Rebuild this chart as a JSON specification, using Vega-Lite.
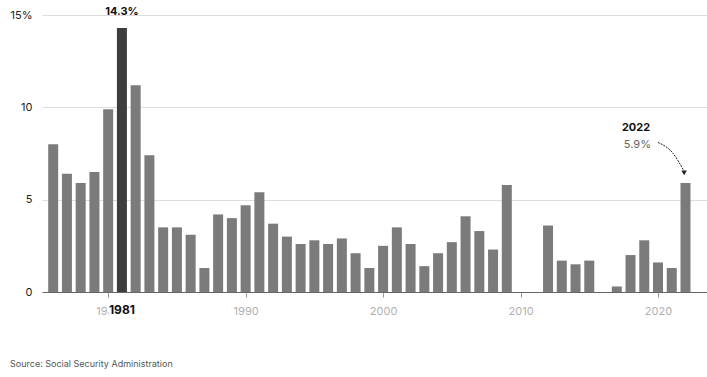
{
  "$schema": "https://vega.github.io/schema/vega-lite/v6.json",
  "width": 665,
  "height": 277,
  "autosize": {"type": "none"},
  "padding": {"left": 42, "top": 15, "right": 0, "bottom": 85},
  "background": "white",
  "config": {
    "font": "Inter",
    "view": {"stroke": null}
  },
  "title": {
    "text": "Source: Social Security Administration",
    "orient": "bottom",
    "anchor": "start",
    "frame": "bounds",
    "offset": 44,
    "fontSize": 9,
    "fontWeight": "normal",
    "color": "#555555",
    "font": "Inter"
  },
  "datasets": {
    "cola": [
      {"year": 1976, "cola": 8.0}, {"year": 1977, "cola": 6.4}, {"year": 1978, "cola": 5.9},
      {"year": 1979, "cola": 6.5}, {"year": 1980, "cola": 9.9}, {"year": 1981, "cola": 14.3},
      {"year": 1982, "cola": 11.2}, {"year": 1983, "cola": 7.4}, {"year": 1984, "cola": 3.5},
      {"year": 1985, "cola": 3.5}, {"year": 1986, "cola": 3.1}, {"year": 1987, "cola": 1.3},
      {"year": 1988, "cola": 4.2}, {"year": 1989, "cola": 4.0}, {"year": 1990, "cola": 4.7},
      {"year": 1991, "cola": 5.4}, {"year": 1992, "cola": 3.7}, {"year": 1993, "cola": 3.0},
      {"year": 1994, "cola": 2.6}, {"year": 1995, "cola": 2.8}, {"year": 1996, "cola": 2.6},
      {"year": 1997, "cola": 2.9}, {"year": 1998, "cola": 2.1}, {"year": 1999, "cola": 1.3},
      {"year": 2000, "cola": 2.5}, {"year": 2001, "cola": 3.5}, {"year": 2002, "cola": 2.6},
      {"year": 2003, "cola": 1.4}, {"year": 2004, "cola": 2.1}, {"year": 2005, "cola": 2.7},
      {"year": 2006, "cola": 4.1}, {"year": 2007, "cola": 3.3}, {"year": 2008, "cola": 2.3},
      {"year": 2009, "cola": 5.8}, {"year": 2010, "cola": 0}, {"year": 2011, "cola": 0},
      {"year": 2012, "cola": 3.6}, {"year": 2013, "cola": 1.7}, {"year": 2014, "cola": 1.5},
      {"year": 2015, "cola": 1.7}, {"year": 2016, "cola": 0}, {"year": 2017, "cola": 0.3},
      {"year": 2018, "cola": 2.0}, {"year": 2019, "cola": 2.8}, {"year": 2020, "cola": 1.6},
      {"year": 2021, "cola": 1.3}, {"year": 2022, "cola": 5.9}
    ],
    "arrow": [
      {"year": 2020.0, "v": 8.1, "o": 1},
      {"year": 2021.1, "v": 7.5, "o": 2},
      {"year": 2021.85, "v": 6.6, "o": 3}
    ]
  },
  "layer": [
    {
      "data": {"name": "cola"},
      "mark": {"type": "bar", "width": 10},
      "encoding": {
        "x": {
          "field": "year", "type": "quantitative",
          "scale": {"domain": [1975.55, 2023.2], "nice": false, "zero": false},
          "axis": {
            "title": null, "values": [1980, 1990, 2000, 2010, 2020], "format": "d",
            "grid": false, "domainColor": "#666666", "domainWidth": 1,
            "tickColor": "#999999", "tickSize": 5, "labelColor": "#b0b0b0",
            "labelFontSize": 11, "labelPadding": 8
          }
        },
        "y": {
          "field": "cola", "type": "quantitative",
          "scale": {"domain": [0, 15], "nice": false},
          "axis": {
            "title": null, "values": [0, 5, 10, 15], "domain": false, "ticks": false,
            "gridColor": "#dddddd", "labelPadding": 10, "labelFontSize": 11,
            "labelColor": "#222222",
            "labelExpr": "datum.value == 15 ? '15%' : datum.label"
          }
        },
        "color": {
          "condition": {"test": "datum.year == 1981", "value": "#3d3d3d"},
          "value": "#7b7b7b"
        }
      }
    },
    {
      "data": {"values": [{"year": 1981, "v": 15.15, "t": "14.3%"}]},
      "mark": {"type": "text", "fontWeight": "bold", "fontSize": 11, "color": "#111111", "baseline": "middle"},
      "encoding": {
        "x": {"field": "year", "type": "quantitative"},
        "y": {"field": "v", "type": "quantitative"},
        "text": {"field": "t"}
      }
    },
    {
      "data": {"values": [{"year": 1981.0, "v": -1.0, "t": "1981"}]},
      "mark": {"type": "text", "fontWeight": "bold", "fontSize": 12, "color": "white", "stroke": "white", "strokeWidth": 5, "baseline": "middle", "clip": false},
      "encoding": {
        "x": {"field": "year", "type": "quantitative"},
        "y": {"field": "v", "type": "quantitative"},
        "text": {"field": "t"}
      }
    },
    {
      "data": {"values": [{"year": 1981.0, "v": -1.0, "t": "1981"}]},
      "mark": {"type": "text", "fontWeight": "bold", "fontSize": 12, "color": "#111111", "baseline": "middle", "clip": false},
      "encoding": {
        "x": {"field": "year", "type": "quantitative"},
        "y": {"field": "v", "type": "quantitative"},
        "text": {"field": "t"}
      }
    },
    {
      "data": {"values": [{"year": 2018.4, "v": 8.9, "t": "2022"}]},
      "mark": {"type": "text", "fontSize": 11, "fontWeight": "bold", "color": "#111111", "baseline": "middle"},
      "encoding": {
        "x": {"field": "year", "type": "quantitative"},
        "y": {"field": "v", "type": "quantitative"},
        "text": {"field": "t"}
      }
    },
    {
      "data": {"values": [{"year": 2018.5, "v": 7.95, "t": "5.9%"}]},
      "mark": {"type": "text", "fontSize": 11, "fontWeight": "normal", "color": "#666666", "baseline": "middle"},
      "encoding": {
        "x": {"field": "year", "type": "quantitative"},
        "y": {"field": "v", "type": "quantitative"},
        "text": {"field": "t"}
      }
    },
    {
      "data": {"name": "arrow"},
      "mark": {"type": "line", "interpolate": "monotone", "color": "#222222", "strokeWidth": 1, "strokeDash": [2, 1]},
      "encoding": {
        "x": {"field": "year", "type": "quantitative"},
        "y": {"field": "v", "type": "quantitative"},
        "order": {"field": "o"}
      }
    },
    {
      "data": {"values": [{"year": 2021.9, "v": 6.45}]},
      "mark": {"type": "point", "shape": "triangle-down", "filled": true, "color": "#222222", "size": 30, "opacity": 1},
      "encoding": {
        "x": {"field": "year", "type": "quantitative"},
        "y": {"field": "v", "type": "quantitative"}
      }
    }
  ]
}
